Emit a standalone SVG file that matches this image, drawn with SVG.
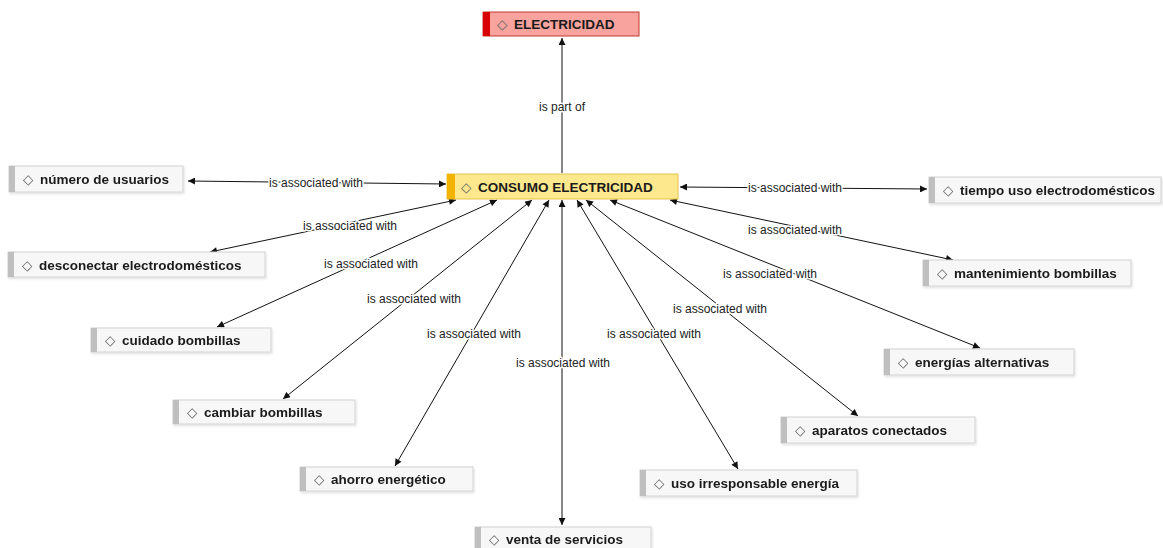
<svg xmlns="http://www.w3.org/2000/svg" width="1163" height="548" viewBox="0 0 1163 548">
<style>
.box{fill:#f7f7f7;stroke:#d2d2d2;stroke-width:1}
.bar{fill:#bfbfbf}
.t{font-family:"Liberation Sans",Arial,sans-serif;font-weight:bold;font-size:13.5px;fill:#1a1a1a}
.d{font-family:"DejaVu Sans",sans-serif;font-weight:normal;font-size:13.5px;fill:#666}
.e{stroke:#111;stroke-width:1;fill:none;marker-start:url(#ah);marker-end:url(#ah)}
.lbl{font-family:"Liberation Sans",Arial,sans-serif;font-size:12px;fill:#222;text-anchor:middle;paint-order:stroke;stroke:#fff;stroke-width:3px;stroke-linejoin:round}
</style>
<defs>
<marker id="ah" viewBox="0 0 10 10" refX="10" refY="5" markerWidth="9" markerHeight="7" markerUnits="userSpaceOnUse" orient="auto-start-reverse">
<path d="M0,0 L10,5 L0,10 z" fill="#111"/>
</marker>
<filter id="sh" x="-5%" y="-20%" width="110%" height="150%">
<feDropShadow dx="1" dy="1.5" stdDeviation="1" flood-color="#000" flood-opacity="0.12"/>
</filter>
</defs>
<rect width="1163" height="548" fill="#fff"/>
<g id="connectors">
<line x1="562" y1="173" x2="562" y2="38" style="stroke:#111;stroke-width:1;marker-end:url(#ah)"/>
<line class="e" x1="188" y1="181" x2="446" y2="184"/>
<line class="e" x1="680" y1="187" x2="927" y2="189"/>
<line class="e" x1="210" y1="252" x2="456" y2="200"/>
<line class="e" x1="670" y1="200" x2="953" y2="260"/>
<line class="e" x1="217" y1="327" x2="497" y2="200"/>
<line class="e" x1="283" y1="399" x2="532" y2="200"/>
<line class="e" x1="395" y1="466" x2="549" y2="200"/>
<line class="e" x1="562" y1="525" x2="562" y2="200"/>
<line class="e" x1="738" y1="469" x2="577" y2="200"/>
<line class="e" x1="858" y1="416" x2="586" y2="200"/>
<line class="e" x1="980" y1="348" x2="610" y2="200"/>
<text class="lbl" x="562" y="111">is part of</text>
<text class="lbl" x="316" y="187">is associated with</text>
<text class="lbl" x="795" y="192">is associated with</text>
<text class="lbl" x="350" y="230">is associated with</text>
<text class="lbl" x="795" y="234">is associated with</text>
<text class="lbl" x="371" y="268">is associated with</text>
<text class="lbl" x="770" y="278">is associated with</text>
<text class="lbl" x="414" y="303">is associated with</text>
<text class="lbl" x="720" y="313">is associated with</text>
<text class="lbl" x="474" y="338">is associated with</text>
<text class="lbl" x="654" y="338">is associated with</text>
<text class="lbl" x="563" y="367">is associated with</text>
</g>
<g id="n-electricidad">
<rect x="483" y="12" width="156" height="24" fill="#f8a39d" stroke="#c0392b"/>
<rect x="483" y="12" width="7" height="24" fill="#d80000"/>
<text class="t" x="514" y="29"><tspan class="d" x="497">◇</tspan><tspan x="514">ELECTRICIDAD</tspan></text>
</g>
<g id="n-consumo">
<rect x="447" y="174" width="231" height="25" fill="#fde88e" stroke="#e6c34a"/>
<rect x="447" y="174" width="8" height="25" fill="#f2b400"/>
<text class="t" x="478" y="191.5"><tspan class="d" x="461">◇</tspan><tspan x="478">CONSUMO ELECTRICIDAD</tspan></text>
</g>
<g id="n-numero" filter="url(#sh)">
<rect class="box" x="9" y="166" width="174" height="26"/>
<rect class="bar" x="9" y="166" width="6" height="26"/>
<text class="t" x="40" y="184"><tspan class="d" x="23">◇</tspan><tspan x="40">número de usuarios</tspan></text>
</g>
<g id="n-tiempo" filter="url(#sh)">
<rect class="box" x="929" y="177" width="232" height="26"/>
<rect class="bar" x="929" y="177" width="6" height="26"/>
<text class="t" x="960" y="195"><tspan class="d" x="943">◇</tspan><tspan x="960">tiempo uso electrodomésticos</tspan></text>
</g>
<g id="n-desconectar" filter="url(#sh)">
<rect class="box" x="8" y="252" width="257" height="25"/>
<rect class="bar" x="8" y="252" width="6" height="25"/>
<text class="t" x="39" y="269.5"><tspan class="d" x="22">◇</tspan><tspan x="39">desconectar electrodomésticos</tspan></text>
</g>
<g id="n-mantenimiento" filter="url(#sh)">
<rect class="box" x="923" y="260" width="208" height="26"/>
<rect class="bar" x="923" y="260" width="6" height="26"/>
<text class="t" x="954" y="278"><tspan class="d" x="937">◇</tspan><tspan x="954">mantenimiento bombillas</tspan></text>
</g>
<g id="n-cuidado" filter="url(#sh)">
<rect class="box" x="91" y="328" width="180" height="24"/>
<rect class="bar" x="91" y="328" width="6" height="24"/>
<text class="t" x="122" y="345"><tspan class="d" x="105">◇</tspan><tspan x="122">cuidado bombillas</tspan></text>
</g>
<g id="n-energias" filter="url(#sh)">
<rect class="box" x="884" y="349" width="190" height="26"/>
<rect class="bar" x="884" y="349" width="6" height="26"/>
<text class="t" x="915" y="367"><tspan class="d" x="898">◇</tspan><tspan x="915">energías alternativas</tspan></text>
</g>
<g id="n-cambiar" filter="url(#sh)">
<rect class="box" x="173" y="400" width="182" height="24"/>
<rect class="bar" x="173" y="400" width="6" height="24"/>
<text class="t" x="204" y="417"><tspan class="d" x="187">◇</tspan><tspan x="204">cambiar bombillas</tspan></text>
</g>
<g id="n-aparatos" filter="url(#sh)">
<rect class="box" x="781" y="417" width="194" height="26"/>
<rect class="bar" x="781" y="417" width="6" height="26"/>
<text class="t" x="812" y="435"><tspan class="d" x="795">◇</tspan><tspan x="812">aparatos conectados</tspan></text>
</g>
<g id="n-ahorro" filter="url(#sh)">
<rect class="box" x="300" y="467" width="173" height="24"/>
<rect class="bar" x="300" y="467" width="6" height="24"/>
<text class="t" x="331" y="484"><tspan class="d" x="314">◇</tspan><tspan x="331">ahorro energético</tspan></text>
</g>
<g id="n-uso" filter="url(#sh)">
<rect class="box" x="640" y="470" width="217" height="26"/>
<rect class="bar" x="640" y="470" width="6" height="26"/>
<text class="t" x="671" y="488"><tspan class="d" x="654">◇</tspan><tspan x="671">uso irresponsable energía</tspan></text>
</g>
<g id="n-venta" filter="url(#sh)">
<rect class="box" x="475" y="527" width="176" height="26"/>
<rect class="bar" x="475" y="527" width="6" height="26"/>
<text class="t" x="506" y="544"><tspan class="d" x="489">◇</tspan><tspan x="506">venta de servicios</tspan></text>
</g>
</svg>
